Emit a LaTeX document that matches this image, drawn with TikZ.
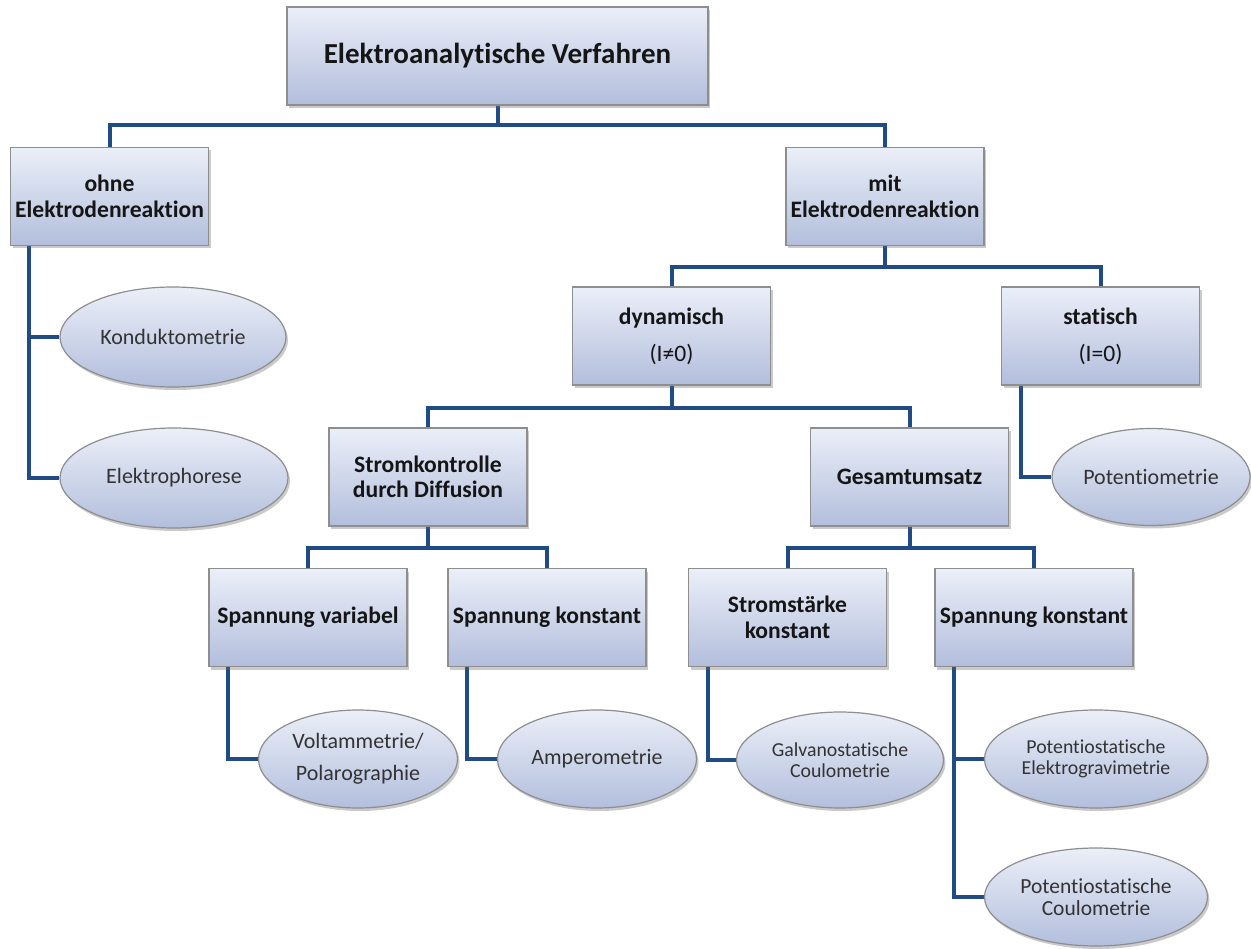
\documentclass[tikz,border=0pt]{standalone}
\usepackage{fontspec}
\setmainfont{Carlito}[Ligatures=NoCommon]
\usetikzlibrary{calc,shadows,backgrounds,shapes.geometric}
\definecolor{boxtop}{HTML}{EBEFF8}
\definecolor{boxbot}{HTML}{B2BEDC}
\definecolor{edge}{HTML}{8E8E8E}
\definecolor{conncol}{HTML}{214B85}
\definecolor{txtdark}{HTML}{151515}
\definecolor{txtell}{HTML}{333333}
\tikzset{
  stepbox/.style={rectangle, draw=edge, line width=1.2pt, top color=boxtop, bottom color=boxbot,
    minimum width=198pt, minimum height=98pt, inner sep=0pt, align=center,
    text=txtdark, font=\fontsize{23.6}{25.5}\selectfont\bfseries,
    drop shadow={shadow xshift=2pt, shadow yshift=-3pt, opacity=0.35, fill=black!60}},
  ell/.style={ellipse, draw=edge, line width=1.2pt, top color=boxtop, bottom color=boxbot,
    inner sep=0pt, align=center, text=txtell, font=\fontsize{22}{32}\selectfont,
    drop shadow={shadow xshift=2pt, shadow yshift=-3pt, opacity=0.35, fill=black!60}},
  conn/.style={draw=conncol, line width=4pt, line join=miter}
}
\begin{document}
\begin{tikzpicture}[x=1pt,y=-1pt]
\useasboundingbox (0,0) rectangle (1251,949);
% boxes
\node[stepbox, minimum width=421pt, font=\fontsize{29}{31}\selectfont\bfseries] (title) at (497.5,56) {Elektroanalytische Verfahren};
\node[stepbox] (ohne) at (109.5,196.5) {ohne\\Elektrodenreaktion};
\node[stepbox] (mit) at (885,196.5) {mit\\Elektrodenreaktion};
\node[stepbox, font=\fontsize{23.6}{37}\selectfont\bfseries] (dyn) at (671.5,336) {dynamisch\\{\mdseries(I≠0)}};
\node[stepbox, font=\fontsize{23.6}{37}\selectfont\bfseries] (stat) at (1100.5,336) {statisch\\{\mdseries(I=0)}};
\node[stepbox] (strom) at (428,477) {Stromkontrolle\\durch Diffusion};
\node[stepbox] (ges) at (909.5,477) {Gesamtumsatz};
\node[stepbox] (spv) at (308,617.5) {Spannung variabel};
\node[stepbox] (spk) at (547,617.5) {Spannung konstant};
\node[stepbox] (sst) at (787.5,617.5) {Stromstärke\\konstant};
\node[stepbox] (spkz) at (1034,617.5) {Spannung konstant};
% ellipses
\node[ell, minimum width=226pt, minimum height=100pt] (kond) at (173,337) {Konduktometrie};
\node[ell, minimum width=228pt, minimum height=100pt] (elek) at (174,478) {Elektrophorese};
\node[ell, minimum width=198pt, minimum height=97pt] (pot) at (1151,477) {Potentiometrie};
\node[ell, minimum width=199pt, minimum height=98pt] (volt) at (358,759) {Voltammetrie/\\Polarographie};
\node[ell, minimum width=199pt, minimum height=98pt] (amp) at (597,759) {Amperometrie};
\node[ell, minimum width=207pt, minimum height=96pt, font=\fontsize{19.8}{21}\selectfont] (galv) at (840,760) {Galvanostatische\\Coulometrie};
\node[ell, minimum width=223pt, minimum height=98pt, font=\fontsize{19.8}{21}\selectfont] (pelek) at (1096,759) {Potentiostatische\\Elektrogravimetrie};
\node[ell, minimum width=223pt, minimum height=98pt, font=\fontsize{21.5}{22}\selectfont] (pcoul) at (1096,897) {Potentiostatische\\Coulometrie};
% bus coordinates
\coordinate (b1) at (497.5,125);
\coordinate (b2) at (885,267);
\coordinate (b3) at (671.5,408);
\coordinate (b4) at (428,548);
\coordinate (b5) at (909.5,548);
\begin{scope}[on background layer]
\draw[conn] (title.south) -- (b1);
\draw[conn] (ohne.north) |- (b1) -| (mit.north);
\draw[conn] (mit.south) -- (b2);
\draw[conn] (dyn.north) |- (b2) -| (stat.north);
\draw[conn] (dyn.south) -- (b3);
\draw[conn] (strom.north) |- (b3) -| (ges.north);
\draw[conn] (strom.south) -- (b4);
\draw[conn] (spv.north) |- (b4) -| (spk.north);
\draw[conn] (ges.south) -- (b5);
\draw[conn] (sst.north) |- (b5) -| (spkz.north);
% side connectors
\draw[conn] ($(ohne.south west)+(19,0)$) |- (elek.west);
\draw[conn] ($(ohne.south west)+(19,0)$) |- (kond.west);
\draw[conn] ($(stat.south west)+(20,0)$) |- (pot.west);
\draw[conn] ($(spv.south west)+(19.5,0)$) |- (volt.west);
\draw[conn] ($(spk.south west)+(19.5,0)$) |- (amp.west);
\draw[conn] ($(sst.south west)+(20,0)$) |- (galv.west);
\draw[conn] ($(spkz.south west)+(20,0)$) |- (pcoul.west);
\draw[conn] ($(spkz.south west)+(20,0)$) |- (pelek.west);
\end{scope}
\end{tikzpicture}
\end{document}
